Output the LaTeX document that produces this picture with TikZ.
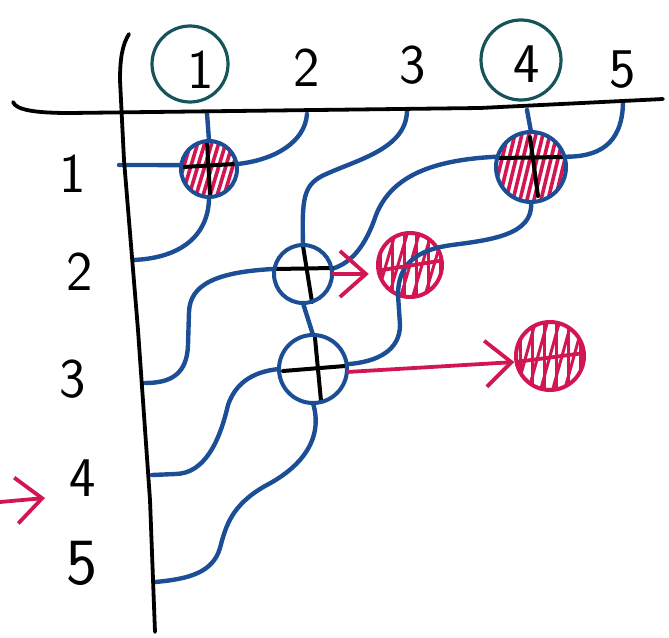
\documentclass[tikz,border=0pt]{standalone}
\usetikzlibrary{arrows.meta}
\definecolor{wireblue}{RGB}{28,78,150}
\definecolor{redpen}{RGB}{210,22,82}
\definecolor{tealpen}{RGB}{22,84,90}
\begin{document}
\begin{tikzpicture}[x=1pt,y=-1pt,
  wire/.style={draw=wireblue, line width=4.4pt, line cap=round, line join=round},
  axisline/.style={draw=black, line width=3.8pt, line cap=round, line join=round},
  crossline/.style={draw=black, line width=4pt, line cap=round},
  ring/.style={circle, draw=wireblue, line width=4pt, inner sep=0pt},
  redring/.style={circle, draw=redpen, line width=4pt, inner sep=0pt},
  hatchline/.style={draw=redpen, line width=3.6pt, line cap=round},
  sparsehatch/.style={draw=redpen, line width=3pt, line cap=round},
  redarrow/.style={draw=redpen, line width=3.8pt, -{Straight Barb[length=26pt,width=46pt,line width=3.8pt]}},
  redline/.style={draw=redpen, line width=3.8pt},
  labelring/.style={circle, draw=tealpen, line width=3.2pt, inner sep=0pt},
  lbl/.style={font=\sffamily\fontsize{56}{56}\selectfont, inner sep=0pt, text=black},
  biglbl/.style={font=\sffamily\fontsize{66}{66}\selectfont, inner sep=0pt, text=black}
]
\useasboundingbox (0,0) rectangle (669,637);

% ---- named points
\coordinate (c1) at (207,113);
\coordinate (c2) at (307,114);
\coordinate (c3) at (407,111);
\coordinate (c4) at (527,110);
\coordinate (c5) at (623,103);
\coordinate (r1) at (119,165);
\coordinate (r2) at (133,260);
\coordinate (r3) at (145,383);
\coordinate (r4) at (152,475);
\coordinate (r5) at (155,582);

% ---- circle nodes (shapes only, drawn later)
\node[circle, inner sep=0pt, minimum size=56pt] (C1) at (209,169) {};
\node[circle, inner sep=0pt, minimum size=70pt] (C4) at (531,167) {};
\node[circle, inner sep=0pt, minimum size=58pt] (C2) at (303,274) {};
\node[circle, inner sep=0pt, minimum size=68pt] (C3) at (313,369) {};
\node[circle, inner sep=0pt, minimum size=64pt] (R1) at (410,265) {};
\node[circle, inner sep=0pt, minimum size=68pt] (R2) at (550,356) {};

% ---- red hatched target circles
\begin{scope}
  \clip (410,265) circle (32pt);
  \foreach \d in {-36,-24,...,36} \draw[sparsehatch, shift={(410,265)}] ({\d-10},34) -- ({\d+10},-34);
  \foreach \d in {-30,-18,...,30} \draw[sparsehatch, shift={(410,265)}] (\d,34) -- (\d,-34);
\end{scope}
\node[redring, minimum size=64pt] at (R1) {};
\begin{scope}
  \clip (550,356) circle (34pt);
  \foreach \d in {-36,-24,...,36} \draw[sparsehatch, shift={(550,356)}] ({\d-10},36) -- ({\d+10},-36);
  \foreach \d in {-30,-18,...,30} \draw[sparsehatch, shift={(550,356)}] (\d,36) -- (\d,-36);
\end{scope}
\node[redring, minimum size=68pt] at (R2) {};

% ---- wires
% row 1 -> column 2
\draw[wire] (r1) -- (C1.172) -- (C1.10) .. controls (275,160) and (305,142) .. (c2);
% column 1 -> row 2
\draw[wire] (c1) -- (C1.north) -- (C1.south) .. controls (209,232) and (185,258) .. (r2);
% column 3 -> row 5
\draw[wire] (c3) .. controls (406,150) and (355,160) .. (322,176)
  .. controls (303,186) and (302,200) .. (C2.north) -- (C2.south) -- (C3.north) -- (C3.south)
  .. controls (324,440) and (300,468) .. (265,486)
  .. controls (232,505) and (226,525) .. (220,548)
  .. controls (213,572) and (190,579) .. (r5);
% column 5 -> row 3
\draw[wire] (c5) .. controls (622,145) and (598,157) .. (C4.17) -- (C4.163)
  .. controls (425,160) and (390,180) .. (376,215)
  .. controls (366,245) and (352,263) .. (C2.10) -- (C2.170)
  .. controls (215,272) and (190,285) .. (189,312) -- (188,345)
  .. controls (187,375) and (170,383) .. (r3);
% column 4 -> row 4
\draw[wire] (c4) -- (C4.north) -- (C4.south)
  .. controls (534,235) and (490,240) .. (452,245)
  .. controls (415,250) and (398,265) .. (398,295) -- (400,325)
  .. controls (400,350) and (378,362) .. (C3.8) -- (C3.180)
  .. controls (250,372) and (235,385) .. (228,405)
  .. controls (220,440) and (205,474) .. (175,474) -- (r4);

% ---- crossing circles
\fill[white] (C1.center) circle (28pt);
\fill[white] (C4.center) circle (35pt);
\fill[white] (C2.center) circle (29pt);
\fill[white] (C3.center) circle (34pt);
\begin{scope}
  \clip (209,169) circle (28pt);
  \foreach \d in {-40,-33,...,40} \draw[hatchline, shift={(209,169)}] ({\d-9},30) -- ({\d+9},-30);
\end{scope}
\begin{scope}
  \clip (531,167) circle (35pt);
  \foreach \d in {-45,-38,...,45} \draw[hatchline, shift={(531,167)}] ({\d-9},37) -- ({\d+9},-37);
\end{scope}
% black crosses
\draw[crossline] (207,142) -- (210,194);
\draw[crossline] (183,167) -- (235,164);
\draw[crossline] (498,158) -- (563,157);
\draw[crossline] (530,137) -- (538,196);
\draw[crossline] (277,269) -- (332,268);
\draw[crossline] (303,246) -- (312,302);
\draw[crossline] (283,371) -- (345,366);
\draw[crossline] (315,338) -- (321,401);
% outlines
\node[ring, minimum size=56pt] at (C1) {};
\node[ring, minimum size=70pt] at (C4) {};
\node[ring, minimum size=58pt] at (C2) {};
\node[ring, minimum size=68pt] at (C3) {};

% ---- red arrows
\draw[redarrow, shorten >=9pt] (C2.east) -- (R1.west |- C2.east);
\draw[redline] (R1.190) -- (R1.8);
\draw[redarrow, shorten >=2pt] (C3.-5) -- (R2.190);
\draw[redline] (R2.190) -- (R2.5);

% ---- axes
\draw[axisline] (13,102) .. controls (16,110) and (35,113) .. (70,113) -- (480,108) -- (663,99);
\draw[axisline] (129,34) .. controls (122,45) and (120,60) .. (120,80) -- (124,160) -- (138,330) -- (150,500) -- (155,632);

% ---- labels
\node[lbl] (T1) at (201,70) {1};
\node[lbl] (T2) at (307,68) {2};
\node[lbl] (T3) at (413,65) {3};
\node[lbl] (T4) at (527,64) {4};
\node[lbl] (T5) at (623,70) {5};
\node[labelring, minimum size=76pt] (K1) at (190,64) {};
\node[labelring, minimum size=80pt] (K4) at (521,60) {};

\node[lbl] (L1) at (73,174) {1};
\node[lbl] (L2) at (80,272) {2};
\node[lbl] (L3) at (73,379) {3};
\node[lbl] (L4) at (83,478) {4};
\node[biglbl] (L5) at (82,563) {5};

\coordinate (la) at (0,502);
\coordinate (lt) at (45,498);
\draw[redarrow] (la) -- (lt);
\end{tikzpicture}
\end{document}
